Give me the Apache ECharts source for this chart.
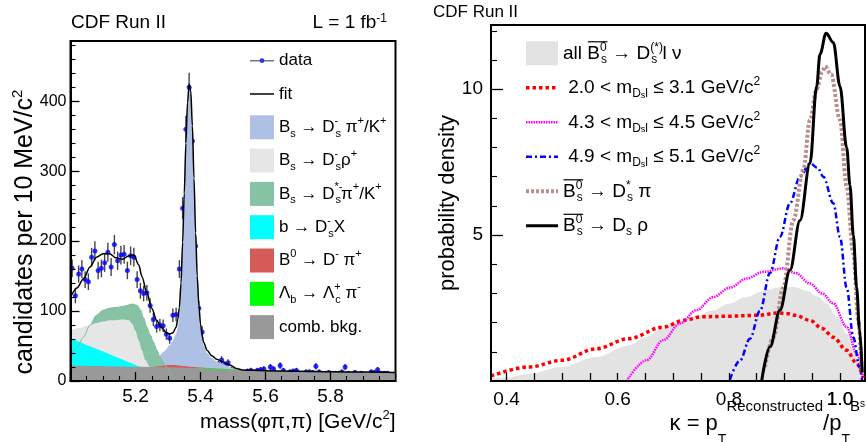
<!DOCTYPE html>
<html>
<head>
<meta charset="utf-8">
<script src="https://cdn.jsdelivr.net/npm/echarts@6/dist/echarts.min.js"></script>
<style>
html,body{margin:0;padding:0;background:#fff;}
#chart{width:866px;height:442px;}
</style>
</head>
<body>
<div id="chart"></div>
<script>
// ================= LEFT PANEL : mass(phi pi, pi) =================
// 10 MeV/c^2 bins from 5.00 to 6.00 GeV/c^2
const binLow = 5.0;
const binWidth = 0.01;
const candidates = [
  161,122,153,160,145,142,177,186,158,161,
  169,184,163,195,172,180,181,158,179,177,
  145,129,125,126,108,88,78,80,79,67,
  61,94,95,160,247,360,420,343,193,104,
  70,29,26,27,23,24,30,23,26,16,
  13,9,8,12,14,15,13,15,16,17,
  11,20,17,4,22,15,6,13,14,15,
  11,11,13,13,12,21,13,9,11,12,
  11,11,11,13,20,11,6,12,8,11,
  9,4,13,12,16,11,11,11,7,7
];

// fit curve
const fitMass = [5.000,5.020,5.040,5.060,5.080,5.100,5.120,5.140,5.160,5.180,5.195,5.210,5.220,5.235,5.250,5.265,5.280,5.295,5.305,5.315,5.325,5.330,5.335,5.340,5.345,5.350,5.355,5.360,5.365,5.370,5.375,5.380,5.385,5.390,5.395,5.400,5.405,5.410,5.420,5.435,5.450,5.470,5.490,5.510,5.530,5.560,5.600,5.700,5.800,5.900,6.000];
const fitValue = [120,133,146,163,177,182,182,176,174,179,180,166,149,126,104,87,76,69,67,69,77,88,105,140,198,268,340,398,424,415,365,290,212,150,108,82,65,55,44,36,31,27,23,18,15.8,15.2,14.8,14,13.3,12.7,12.2];

// Bs -> Ds pi / K (signal)
const sigMass = [5.000,5.100,5.150,5.190,5.220,5.250,5.270,5.290,5.305,5.315,5.325,5.330,5.335,5.340,5.345,5.350,5.355,5.360,5.365,5.370,5.375,5.380,5.385,5.390,5.395,5.400,5.405,5.410,5.420,5.435,5.450,5.470,5.490,5.510,5.530,5.560,5.600,5.650];
const sigValue = [8,12,16,20,23,29,35,43,51,58,68,77,95,130,190,258,332,392,420,411,360,285,207,145,103,77,60,50,40,33,28,24,20,16.5,13,10,6,0];

// Bs -> Ds* pi / K
const dstarMass = [5.000,5.020,5.040,5.060,5.080,5.100,5.120,5.140,5.165,5.190,5.205,5.215,5.225,5.235,5.245,5.255,5.265,5.275,5.285,5.300,5.320];
const dstarValue = [35,48,63,80,94,101,104,105,107,110,108,102,90,77,66,56,45,35,27,16,0];

// Bs -> Ds rho
const rhoMass = [5.000,5.030,5.050,5.080,5.100,5.120,5.140,5.160,5.180,5.190,5.200,5.210,5.220,5.230,5.245,5.260,5.280,5.300];
const rhoValue = [73,76,79,83,85,87,87,88,87,82,72,58,44,30,20,14,6,0];

// b -> Ds X
const dsxMass = [5.000,5.050,5.100,5.150,5.200,5.215,5.230,5.260];
const dsxValue = [61,51.5,42,32.5,23,20,17,0];

// B0 -> D pi
const b0Mass = [5.200,5.240,5.270,5.300,5.320,5.350,5.380,5.410,5.440];
const b0Value = [0,19,21,23,23,21.5,20,18.8,0];

// Lambda_b -> Lambda_c pi
const lbMass = [5.360,5.390,5.420,5.460,5.500,5.520,5.550];
const lbValue = [0,18.8,18.6,17.8,16.6,15.5,0];

// combinatorial background
const combMass = [5.0,5.1,5.2,5.3,5.4,5.5,5.6,5.7,5.8,5.9,6.0];
const combValue = [22,21.2,20.4,19.5,18.3,16,14.6,13.8,13.1,12.5,12];

// tick labels (left)
const massTickStep = 0.2;
const leftYTickLabels = [0,100,200,300,400];
const leftYMinorTicks = [20,40,60,80,120,140,160,180,220,240,260,280,320,340,360,380,420,440,460,480];

// ================= RIGHT PANEL : kappa =================
const allKappa = [0.372,0.40,0.44,0.50,0.56,0.62,0.65,0.68,0.71,0.74,0.77,0.80,0.83,0.86,0.89,0.916,0.94,0.96,0.976,0.995,1.012,1.025,1.033,1.042];
const allDensity = [0.08,0.12,0.25,0.48,0.82,1.22,1.5,1.8,2.03,2.22,2.42,2.65,2.87,3.07,3.2,3.23,3.1,2.9,2.66,2.2,1.63,1.05,0.6,0];

const m1Kappa = [0.372,0.44,0.50,0.56,0.62,0.68,0.72,0.75,0.80,0.85,0.89,0.904,0.92,0.946,0.968,0.988,1.012,1.03,1.042];
const m1Density = [0.17,0.48,0.71,1.1,1.45,1.84,2.08,2.2,2.22,2.25,2.33,2.31,2.25,2.08,1.8,1.5,1.05,0.6,0.1];

const m2Kappa = [0.616,0.652,0.682,0.712,0.742,0.772,0.802,0.832,0.862,0.898,0.92,0.946,0.968,0.988,1.012,1.03,1.041];
const m2Density = [0,0.71,1.4,1.97,2.43,2.88,3.2,3.51,3.74,3.86,3.7,3.34,3.0,2.66,1.85,0.94,0.2];

const m3Kappa = [0.802,0.82,0.838,0.856,0.874,0.892,0.910,0.928,0.946,0.96,0.970,0.988,1.0,1.012,1.024,1.035,1.04];
const m3Density = [0.05,0.7,1.45,2.4,3.7,4.94,6.09,7.0,7.46,7.3,7.0,6.09,4.94,3.2,1.5,0.48,0];

const dstarPiKappa = [0.865,0.880,0.898,0.916,0.934,0.946,0.958,0.968,0.973,0.984,1.0,1.012,1.024,1.033,1.039];
const dstarPiDensity = [0.48,1.5,3.2,5.5,7.23,8.95,10.0,10.6,10.78,10.5,8.95,6.66,4.37,2.08,0.3];

const rhoKappa = [0.859,0.874,0.892,0.910,0.928,0.946,0.958,0.964,0.975,0.988,1.0,1.012,1.018,1.024,1.03,1.035,1.04];
const rhoDensity = [0,1.17,2.43,3.8,5.5,7.46,10.1,11.2,11.92,11.6,10.1,8.0,6.7,5.0,3.2,1.8,0.3];

const kappaMin = 0.372, kappaMax = 1.045;
const rightXTicks = [0.4,0.45,0.5,0.55,0.6,0.65,0.7,0.75,0.8,0.85,0.9,0.95,1.0];
const rightXLabels = [0.4,0.6,0.8,1.0];
const rightYLabels = [5,10];
const rightYMinorTicks = [1,2,3,4,6,7,8,9,11,12];

// ================= helpers =================
const FONT = '"Liberation Sans", Arial, Helvetica, sans-serif';
const zip = (xs, ys) => xs.map((x, i) => [x, ys[i]]);
const binCenters = candidates.map((_, i) => +(binLow + binWidth * (i + 0.5)).toFixed(3));
const dataPoints = candidates.map((c, i) => [binCenters[i], c]);
const errorBars = candidates.map((c, i) => [binCenters[i], c, Math.sqrt(c)]);

function rs(size, va, lh, extra) {
  return Object.assign({fontSize: size, lineHeight: lh, verticalAlign: va, fontFamily: FONT, color: '#000'}, extra || {});
}
function zs(size, va, lh, extra) {
  return Object.assign({fontSize: size, lineHeight: lh, verticalAlign: va, fontFamily: FONT, fill: '#000'}, extra || {});
}
function svgIcon(body, w, h) {
  return 'image://data:image/svg+xml;utf8,' + encodeURIComponent(
    '<svg xmlns="http://www.w3.org/2000/svg" width="' + w + '" height="' + h + '">' + body + '</svg>');
}
function lineIcon(w, h, color, lw, dash) {
  return svgIcon('<line x1="0" y1="' + h / 2 + '" x2="' + w + '" y2="' + h / 2 + '" stroke="' + color +
    '" stroke-width="' + lw + '"' + (dash ? ' stroke-dasharray="' + dash + '"' : '') + '/>', w, h);
}

const richLegL = {
  sub: rs(11, 'bottom', 12),
  sup: rs(11, 'top', 12),
  supw: rs(11, 'top', 12, {width: 1})
};
const richLegR = {
  sub: rs(12, 'bottom', 12),
  sup: rs(12, 'top', 12),
  supw: rs(12, 'top', 12, {width: 1}),
  subsub: rs(9, 'bottom', 6)
};

const leftLegendText = {
  'data': 'data',
  'fit': 'fit',
  'sig': 'B{sub|s} \u2192 D{supw|-}{sub|s} \u03c0{sup|+}/K{sup|+}',
  'rho': 'B{sub|s} \u2192 D{supw|-}{sub|s}\u03c1{sup|+}',
  'dstar': 'B{sub|s} \u2192 D{supw|*-}{sub|s}\u03c0{sup|+}/K{sup|+}',
  'dsx': 'b \u2192 D{supw|-}{sub|s}X',
  'b0': 'B{sup|0} \u2192 D{sup|-} \u03c0{sup|+}',
  'lb': '\u039b{sub|b} \u2192 \u039b{supw|+}{sub|c} \u03c0{sup|-}',
  'comb': 'comb. bkg.'
};
const mDsl = 'm{sub|D}{subsub|s}{sub|l}';
const rightLegendText = {
  'all': 'all B{supw|0}{sub|s} \u2192 D{supw|(*)}{sub|s} l \u03bd',
  'm1': ' 2.0 < ' + mDsl + ' \u2264 3.1 GeV/c{sup|2}',
  'm2': ' 4.3 < ' + mDsl + ' \u2264 4.5 GeV/c{sup|2}',
  'm3': ' 4.9 < ' + mDsl + ' \u2264 5.1 GeV/c{sup|2}',
  'dstarpi': 'B{supw|0}{sub|s} \u2192 D{supw|*}{sub|s} \u03c0',
  'rhoR': 'B{supw|0}{sub|s} \u2192 D{sub|s} \u03c1'
};

// legend layout constants
const LLEG = {left: 250, top: 48.7, w: 24, h: 24, gap: 9.3};
const RLEG = {left: 526, top: 41.3, w: 32, h: 24, gap: 10.5};
const RGRID = {left: 491, top: 25, width: 374, height: 356};

// overlines for B-bar
const mctx = document.createElement('canvas').getContext('2d');
function tw(t, size) { mctx.font = size + 'px ' + FONT; return mctx.measureText(t).width; }
const rTextX = RLEG.left + RLEG.w + 5;
const rCenter = k => RLEG.top + RLEG.h / 2 + k * (RLEG.h + RLEG.gap);
const bbarW = tw('B', 19) + Math.max(tw('0', 12), 1 + tw('s', 12)) + 0.5;
const overlines = [
  [rTextX + tw('all ', 19), rCenter(0) - 11.5],
  [rTextX, rCenter(4) - 11.5],
  [rTextX, rCenter(5) - 11.5]
].map(p => ({
  type: 'line', z: 100, silent: true,
  shape: {x1: p[0] + 0.5, y1: p[1], x2: p[0] + bbarW, y2: p[1]},
  style: {stroke: '#000', lineWidth: 1.2}
}));

// right x-axis title (kappa)
const kappaTitle = {
  type: 'text', z: 90, silent: true,
  style: {
    text: '\u03ba = p{sub|T}{sup|Reconstructed}/p{sub|T}{sup|B}{supsub|s}',
    x: 865, y: 399.5, align: 'right', verticalAlign: 'top',
    fontSize: 22, lineHeight: 48, fontFamily: FONT, fill: '#000',
    rich: {sub: zs(14, 'bottom', 27), sup: zs(15, 'top', 13), supsub: zs(10, 'top', 36)}
  }
};

const dataIcon = svgIcon('<line x1="0" y1="4" x2="24" y2="4" stroke="#555" stroke-width="1.6"/><circle cx="12" cy="4" r="2.4" fill="#0000ff"/>', 24, 8);

function area(name, xs, ys, color, smooth) {
  return {
    name: name, type: 'line', xAxisIndex: 0, yAxisIndex: 0,
    data: zip(xs, ys), symbol: 'none', showSymbol: false,
    smooth: smooth === undefined ? 0.3 : smooth, smoothMonotone: 'x',
    itemStyle: {color: color}, color: color,
    lineStyle: {width: 0, opacity: 0},
    areaStyle: {color: color, opacity: 1},
    silent: true, emphasis: {disabled: true}, animation: false
  };
}
function kline(name, xs, ys, color, width, type) {
  return {
    name: name, type: 'line', xAxisIndex: 1, yAxisIndex: 2,
    data: zip(xs, ys), symbol: 'none', showSymbol: false,
    smooth: 0.35, smoothMonotone: 'x',
    itemStyle: {color: color}, color: color,
    lineStyle: {color: color, width: width, type: type, cap: 'butt'},
    silent: true, emphasis: {disabled: true}, animation: false
  };
}

const axisTextBase = {color: '#000', fontFamily: FONT};
const lastKappaLabel = rightXLabels[rightXLabels.length - 1];

const option = {
  animation: false,
  backgroundColor: '#fff',
  textStyle: {fontFamily: FONT, color: '#000'},
  title: [
    {text: 'CDF Run II', left: 71, top: 13, padding: 0,
     textStyle: {fontSize: 19, fontWeight: 'normal', color: '#000', fontFamily: FONT, lineHeight: 19}},
    {text: 'L = 1 fb{sup|-1}', right: 479, top: 13, padding: 0,
     textStyle: {fontSize: 19, fontWeight: 'normal', color: '#000', fontFamily: FONT, lineHeight: 19,
       rich: {sup: rs(12, 'top', 9)}}},
    {text: 'CDF Run II', left: 433, top: 4, padding: 0,
     textStyle: {fontSize: 17, fontWeight: 'normal', color: '#000', fontFamily: FONT, lineHeight: 17}}
  ],
  grid: [
    {left: 70.5, top: 41, width: 325, height: 340, show: true, borderColor: '#000', borderWidth: 2,
     backgroundColor: 'transparent', containLabel: false},
    Object.assign({show: true, borderColor: '#000', borderWidth: 2, backgroundColor: 'transparent', containLabel: false}, RGRID)
  ],
  legend: [
    {orient: 'vertical', left: LLEG.left, top: LLEG.top, itemWidth: LLEG.w, itemHeight: LLEG.h,
     itemGap: LLEG.gap, padding: 0, selectedMode: false,
     formatter: n => leftLegendText[n],
     textStyle: {fontSize: 17, lineHeight: 24, color: '#000', fontFamily: FONT, rich: richLegL},
     data: [
       {name: 'data', icon: dataIcon},
       {name: 'fit', icon: lineIcon(24, 4, '#000', 1.5)},
       {name: 'sig', icon: 'rect', itemStyle: {color: '#aec0e4'}},
       {name: 'rho', icon: 'rect', itemStyle: {color: '#e6e6e6'}},
       {name: 'dstar', icon: 'rect', itemStyle: {color: '#86c2a4'}},
       {name: 'dsx', icon: 'rect', itemStyle: {color: '#00ffff'}},
       {name: 'b0', icon: 'rect', itemStyle: {color: '#d65a58'}},
       {name: 'lb', icon: 'rect', itemStyle: {color: '#00ff00'}},
       {name: 'comb', icon: 'rect', itemStyle: {color: '#999999'}}
     ]},
    {orient: 'vertical', left: RLEG.left, top: RLEG.top, itemWidth: RLEG.w, itemHeight: RLEG.h,
     itemGap: RLEG.gap, padding: 0, selectedMode: false,
     formatter: n => rightLegendText[n],
     textStyle: {fontSize: 19, lineHeight: 24, color: '#000', fontFamily: FONT, rich: richLegR},
     data: [
       {name: 'all', icon: 'rect', itemStyle: {color: '#e3e3e3'}},
       {name: 'm1', icon: lineIcon(32, 8, '#ff0000', 3.5, '3.5 3')},
       {name: 'm2', icon: lineIcon(32, 8, '#ff00ff', 2.5, '1.5 1')},
       {name: 'm3', icon: lineIcon(32, 8, '#0000ff', 2.5, '6 3 2 3')},
       {name: 'dstarpi', icon: lineIcon(32, 8, '#bc8f8f', 4, '3 2')},
       {name: 'rhoR', icon: lineIcon(32, 8, '#000000', 3)}
     ]}
  ],
  xAxis: [
    {type: 'value', gridIndex: 0, min: binLow, max: 6.0, interval: massTickStep, z: 5,
     axisLine: {show: true, lineStyle: {color: '#000', width: 2}},
     axisTick: {show: true, inside: true, length: 9, lineStyle: {color: '#000', width: 1.3}},
     minorTick: {show: true, splitNumber: 4, length: 5, lineStyle: {color: '#000', width: 1.1}},
     axisLabel: Object.assign({fontSize: 19, margin: 6, showMinLabel: false, showMaxLabel: false,
       formatter: v => v.toFixed(1)}, axisTextBase),
     splitLine: {show: false}, minorSplitLine: {show: false},
     name: 'mass(\u03c6\u03c0,\u03c0) [GeV/c{sup|2}]', nameLocation: 'end', nameGap: 0, nameMoveOverlap: false,
     nameTextStyle: {fontSize: 21, lineHeight: 26, align: 'right', verticalAlign: 'top', padding: [28, 0, 0, 0],
       color: '#000', fontFamily: FONT, rich: {sup: rs(13, 'top', 12)}}},
    {type: 'value', gridIndex: 1, min: kappaMin, max: kappaMax, z: 5,
     axisLine: {show: true, lineStyle: {color: '#000', width: 2}},
     axisTick: {show: true, inside: true, length: 8, customValues: rightXTicks, lineStyle: {color: '#000', width: 1.3}},
     axisLabel: Object.assign({fontSize: 19, margin: 9, customValues: rightXLabels,
       formatter: v => v.toFixed(1)}, axisTextBase),
     splitLine: {show: false}},
  ],
  yAxis: [
    {type: 'value', gridIndex: 0, min: 0, max: 486, z: 5,
     axisLine: {show: true, lineStyle: {color: '#000', width: 2}},
     axisTick: {show: true, inside: true, length: 9, customValues: leftYTickLabels, lineStyle: {color: '#000', width: 1.3}},
     axisLabel: Object.assign({fontSize: 16, margin: 4, customValues: leftYTickLabels}, axisTextBase),
     splitLine: {show: false},
     name: 'candidates per 10 MeV/c{sup|2}', nameLocation: 'middle', nameRotate: 90, nameGap: 45.5,
     nameMoveOverlap: false,
     nameTextStyle: {fontSize: 25, lineHeight: 30, align: 'center', verticalAlign: 'middle', padding: [0, 42, 0, 0],
       color: '#000', fontFamily: FONT, rich: {sup: rs(15, 'top', 14)}}},
    {type: 'value', gridIndex: 0, min: 0, max: 486, z: 5, position: 'left',
     axisLine: {show: false}, axisLabel: {show: false}, splitLine: {show: false},
     axisTick: {show: true, inside: true, length: 5, customValues: leftYMinorTicks, lineStyle: {color: '#000', width: 1.1}}},
    {type: 'value', gridIndex: 1, min: 0, max: 12.2, z: 5,
     axisLine: {show: true, lineStyle: {color: '#000', width: 2}},
     axisTick: {show: true, inside: true, length: 12, customValues: rightYLabels, lineStyle: {color: '#000', width: 1.3}},
     axisLabel: Object.assign({fontSize: 19, margin: 8, customValues: rightYLabels}, axisTextBase),
     splitLine: {show: false},
     name: 'probability density', nameLocation: 'middle', nameRotate: 90, nameGap: 43, nameMoveOverlap: false,
     nameTextStyle: {fontSize: 22, align: 'center', verticalAlign: 'middle', color: '#000', fontFamily: FONT}},
    {type: 'value', gridIndex: 1, min: 0, max: 12.2, z: 5, position: 'left',
     axisLine: {show: false}, axisLabel: {show: false}, splitLine: {show: false},
     axisTick: {show: true, inside: true, length: 6, customValues: rightYMinorTicks, lineStyle: {color: '#000', width: 1.1}}}
  ],
  graphic: overlines.concat([kappaTitle]),
  series: [
    // ---- left panel components (drawn back to front) ----
    area('sig', sigMass, sigValue, '#aec0e4', 0.25),
    area('dstar', dstarMass, dstarValue, '#86c2a4'),
    area('rho', rhoMass, rhoValue, '#e6e6e6'),
    area('dsx', dsxMass, dsxValue, '#00ffff', 0),
    {name: 'dstarEdge', type: 'line', xAxisIndex: 0, yAxisIndex: 0, data: zip(dstarMass, dstarValue),
     symbol: 'none', smooth: 0.3, smoothMonotone: 'x', lineStyle: {color: '#7dbb9c', width: 1},
     silent: true, emphasis: {disabled: true}},
    area('b0', b0Mass, b0Value, '#d65a58'),
    area('lb', lbMass, lbValue, '#00ff00'),
    area('comb', combMass, combValue, '#999999'),
    {name: 'fit', type: 'line', xAxisIndex: 0, yAxisIndex: 0, data: zip(fitMass, fitValue),
     symbol: 'none', showSymbol: false, smooth: 0.3, smoothMonotone: 'x',
     itemStyle: {color: '#000'}, lineStyle: {color: '#000', width: 1.5},
     silent: true, emphasis: {disabled: true}},
    {name: 'errors', type: 'custom', xAxisIndex: 0, yAxisIndex: 0, data: errorBars, clip: true,
     encode: {x: 0, y: 1}, silent: true,
     renderItem: function (params, api) {
       const x = api.value(0), y = api.value(1), e = api.value(2);
       const hi = api.coord([x, y + e]), lo = api.coord([x, y - e]);
       return {type: 'line', shape: {x1: hi[0], y1: hi[1], x2: lo[0], y2: lo[1]},
               style: {stroke: '#444', lineWidth: 1.4}};
     }},
    {name: 'data', type: 'scatter', xAxisIndex: 0, yAxisIndex: 0, data: dataPoints,
     symbol: 'circle', symbolSize: 5, itemStyle: {color: '#0000ff'}, clip: true,
     silent: true, emphasis: {disabled: true}},
    // ---- right panel ----
    {name: 'all', type: 'line', xAxisIndex: 1, yAxisIndex: 2, data: zip(allKappa, allDensity),
     symbol: 'none', showSymbol: false, smooth: 0.35, smoothMonotone: 'x',
     itemStyle: {color: '#e3e3e3'}, lineStyle: {width: 0, opacity: 0},
     areaStyle: {color: '#e3e3e3', opacity: 1}, silent: true, emphasis: {disabled: true}},
    kline('m1', m1Kappa, m1Density, '#ff0000', 3.5, [3.5, 3]),
    kline('m2', m2Kappa, m2Density, '#ff00ff', 2.5, [1.5, 1]),
    kline('m3', m3Kappa, m3Density, '#0000ff', 2.5, [6, 3, 2, 3]),
    kline('dstarpi', dstarPiKappa, dstarPiDensity, '#bc8f8f', 4, [3, 2]),
    kline('rhoR', rhoKappa, rhoDensity, '#000000', 3, 'solid')
  ]
};

const chart = echarts.init(document.getElementById('chart'), null, {renderer: 'canvas', width: 866, height: 442});
chart.setOption(option);

// reinforce the last kappa tick label on a top layer, positioned through the axis scale
let lastX = chart.convertToPixel({xAxisIndex: 1}, lastKappaLabel);
if (typeof lastX !== 'number' || !isFinite(lastX)) {
  lastX = RGRID.left + (lastKappaLabel - kappaMin) / (kappaMax - kappaMin) * RGRID.width;
}
chart.setOption({graphic: overlines.concat([kappaTitle, {
  type: 'text', zlevel: 1, z: 200, silent: true,
  style: {text: lastKappaLabel.toFixed(1), x: lastX, y: RGRID.top + RGRID.height + 9,
    align: 'center', verticalAlign: 'top', fontSize: 19, lineHeight: 19, fontFamily: FONT, fill: '#000'}
}])});
</script>
</body>
</html>
